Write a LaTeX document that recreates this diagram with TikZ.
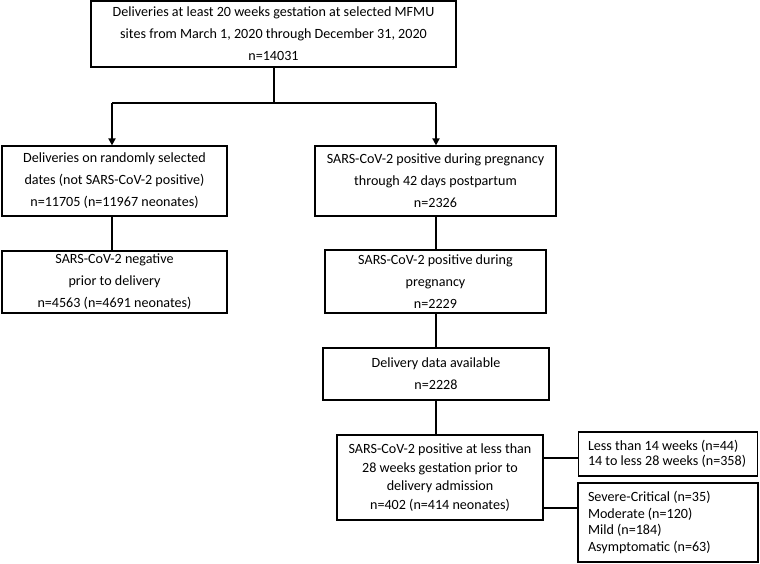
\documentclass[tikz,border=0pt]{standalone}
\usepackage{fontspec}
\setmainfont{Carlito}
\usetikzlibrary{arrows.meta}
\begin{document}
\begin{tikzpicture}[x=1pt,y=-1pt,
  box/.style={draw,line width=1.2pt,align=center,inner sep=0pt,font=\fontsize{14.1}{22}\selectfont},
  lbox/.style={draw,line width=1.2pt,align=flush left,inner sep=0pt,font=\fontsize{14.1}{15.5}\selectfont},
  conn/.style={line width=1.7pt},
  arr/.style={conn,-{Triangle[length=7pt,width=7pt]}}]
\useasboundingbox (0,0) rectangle (760,563);
\node[box,minimum width=365pt,minimum height=66pt] (top) at (273.5,34) {Deliveries at least 20 weeks gestation at selected MFMU\\sites from March 1, 2020 through December 31, 2020\\n=14031};
\node[box,minimum width=225pt,minimum height=70pt] (L1) at (114.5,181) {Deliveries on randomly selected\\dates (not SARS-CoV-2 positive)\\n=11705 (n=11967 neonates)};
\node[box,minimum width=225pt,minimum height=62pt] (L2) at (114.5,282) {SARS-CoV-2 negative\\prior to delivery\\n=4563 (n=4691 neonates)};
\node[box,minimum width=241pt,minimum height=70pt] (R1) at (435.5,181) {SARS-CoV-2 positive during pregnancy\\through 42 days postpartum\\n=2326};
\node[box,minimum width=221pt,minimum height=63pt] (R2) at (435.5,281.5) {SARS-CoV-2 positive during\\pregnancy\\n=2229};
\node[box,minimum width=226pt,minimum height=52pt] (R3) at (436,374) {Delivery data available\\n=2228};
\node[box,minimum width=206pt,minimum height=85pt,font=\fontsize{14.1}{18.7}\selectfont] (R4) at (440,477.5) {SARS-CoV-2 positive at less than\\28 weeks gestation prior to\\delivery admission\\n=402 (n=414 neonates)};
\node[lbox,minimum width=179pt,minimum height=44pt,text width=160pt] (A) at (668,454) {Less than 14 weeks (n=44)\\14 to less 28 weeks (n=358)};
\node[lbox,minimum width=180pt,minimum height=79pt,text width=160pt,font=\fontsize{14.1}{16.7}\selectfont] (B) at (668,522.5) {Severe-Critical (n=35)\\Moderate (n=120)\\Mild (n=184)\\Asymptomatic (n=63)};
\coordinate (j) at (274,103);
\coordinate (jl) at (112,103);
\coordinate (jr) at (436,103);
\draw[conn] (top.south -| j) -- (j);
\draw[conn] (jl) -- (jr);
\draw[arr] (jl) -- (jl |- L1.north);
\draw[arr] (jr) -- (jr |- R1.north);
\draw[conn] (L1.south -| jl) -- (L2.north -| jl);
\draw[conn] (R1.south -| jr) -- (R2.north -| jr);
\draw[conn] (R2.south -| jr) -- (R3.north -| jr);
\draw[conn] (R3.south -| jr) -- (R4.north -| jr);
\coordinate (ya) at (0,458);
\coordinate (yb) at (0,508);
\draw[conn] (R4.east |- ya) -- (A.west |- ya);
\draw[conn] (R4.east |- yb) -- (B.west |- yb);
\end{tikzpicture}
\end{document}
